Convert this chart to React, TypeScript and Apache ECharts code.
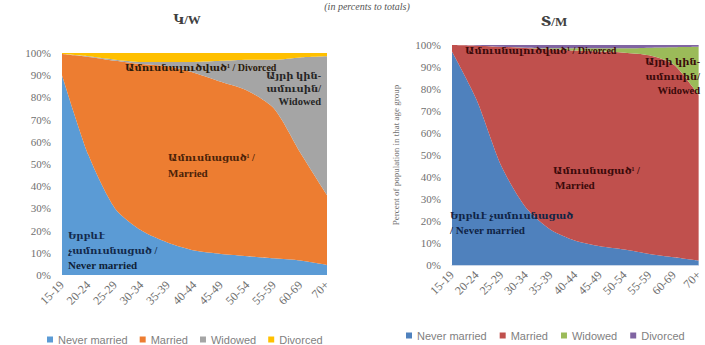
import React, { useEffect, useRef } from 'react';
import * as echarts from 'echarts';

const categories = ['15-19', '20-24', '25-29', '30-34', '35-39', '40-44', '45-49', '50-54', '55-59', '60-69', '70+'];
const legendNames = ['Never married', 'Married', 'Widowed', 'Divorced'];
const yTicks = [0, 10, 20, 30, 40, 50, 60, 70, 80, 90, 100];

// Women (Կ/W)
const womenNever = [90, 54, 30, 20, 14.5, 11, 9.5, 8.5, 7.5, 6.5, 4.5];
const womenMarried = [9.5, 44.2, 66.5, 75, 79.5, 80, 77.5, 74.5, 67.5, 48.5, 31.5];
const womenWidowed = [0, 0.3, 0.5, 1, 2, 5, 9.5, 14, 22, 43, 62.5];
const womenDivorced = [0.5, 1.5, 3, 4, 4, 4, 3.5, 3, 3, 2, 1.5];

// Men (Տ/M)
const menNever = [97, 75, 45, 26, 16, 11, 8.5, 7, 5, 3.5, 2];
const menMarried = [3, 24.7, 54.2, 72.6, 82, 86.5, 88.5, 89.5, 90.3, 87.5, 75.2];
const menWidowed = [0, 0, 0, 0.2, 0.5, 1, 1.5, 2, 3.5, 8, 22];
const menDivorced = [0, 0.3, 0.8, 1.2, 1.5, 1.5, 1.5, 1.5, 1.2, 1, 0.8];

const womenColors = ['#5B9BD5', '#ED7D31', '#A5A5A5', '#FFC000'];
const menColors = ['#4F81BD', '#C0504D', '#9BBB59', '#8064A2'];

const SERIF = "'Liberation Serif', 'DejaVu Serif', serif";
const SANS = "'Liberation Sans', Arial, sans-serif";

function mkSeries(name: string, data: number[], color: string, idx: number) {
  return {
    type: 'line',
    name,
    data,
    stack: idx === 0 ? 'w' : 'm',
    xAxisIndex: idx,
    yAxisIndex: idx,
    symbol: 'none',
    smooth: 0.25,
    silent: true,
    lineStyle: { width: 0, color },
    itemStyle: { color },
    areaStyle: { color, opacity: 1 },
  };
}

function txt(text: string, x: number, y: number, fill: string, size = 11, align = 'left', weight = 'bold', family = SERIF, italic = false) {
  return {
    type: 'text',
    x,
    y,
    silent: true,
    z: 100,
    style: {
      text,
      fill,
      font: `${italic ? 'italic ' : ''}${weight} ${size}px ${family}`,
      textAlign: align,
      align,
      textVerticalAlign: 'middle',
      verticalAlign: 'middle',
    },
  };
}

function xAxis(gridIndex: number) {
  return {
    type: 'category',
    gridIndex,
    data: categories,
    boundaryGap: false,
    axisTick: { show: false },
    axisLine: { show: gridIndex === 1, lineStyle: { color: '#c9d6e8' } },
    axisLabel: { rotate: 45, margin: 8, fontSize: 12, color: '#6f6f6f', fontFamily: SERIF, interval: 0 },
  };
}

function yAxis(gridIndex: number) {
  return {
    type: 'value',
    gridIndex,
    min: 0,
    max: 100,
    interval: 10,
    splitLine: { show: false },
    axisLine: { show: false },
    axisTick: { show: false },
    axisLabel: { formatter: (v: number) => (yTicks.includes(v) ? v + '%' : ''), fontSize: 11, color: '#6f6f6f', fontFamily: SERIF, margin: 11 },
    ...(gridIndex === 1
      ? {
          name: 'Percent of population in that age group',
          nameLocation: 'middle',
          nameRotate: 90,
          nameGap: 52,
          nameTextStyle: { fontSize: 9, color: '#6f6f6f', fontFamily: SERIF },
        }
      : {}),
  };
}

export default function App() {
  const ref = useRef<HTMLDivElement>(null);
  useEffect(() => {
    const chart = echarts.init(ref.current!, null, { renderer: 'svg' });
    const option = {
      animation: false,
      backgroundColor: '#ffffff',
      grid: [
        { left: 62, top: 53, width: 265, height: 222 },
        { left: 452, top: 45, width: 250, height: 220 },
      ],
      xAxis: [xAxis(0), xAxis(1)],
      yAxis: [yAxis(0), yAxis(1)],
      legend: [
        {
          left: 42,
          top: 329,
          itemWidth: 6,
          itemHeight: 6,
          itemGap: 12,
          icon: 'rect',
          selectedMode: false,
          textStyle: { fontSize: 11, color: '#7f7f7f', fontFamily: SANS },
          data: legendNames.map((n, i) => ({ name: n, itemStyle: { color: womenColors[i] } })),
        },
        {
          left: 401,
          top: 325,
          itemWidth: 6,
          itemHeight: 6,
          itemGap: 13,
          icon: 'rect',
          selectedMode: false,
          textStyle: { fontSize: 11, color: '#7f7f7f', fontFamily: SANS },
          data: legendNames.map((n, i) => ({ name: n, itemStyle: { color: menColors[i] } })),
        },
      ],
      series: [
        mkSeries(legendNames[0], womenNever, womenColors[0], 0),
        mkSeries(legendNames[1], womenMarried, womenColors[1], 0),
        mkSeries(legendNames[2], womenWidowed, womenColors[2], 0),
        mkSeries(legendNames[3], womenDivorced, womenColors[3], 0),
        mkSeries(legendNames[0], menNever, menColors[0], 1),
        mkSeries(legendNames[1], menMarried, menColors[1], 1),
        mkSeries(legendNames[2], menWidowed, menColors[2], 1),
        mkSeries(legendNames[3], menDivorced, menColors[3], 1),
      ],
      graphic: [
        txt('(in percents to totals)', 367, 6, '#555555', 10, 'center', 'normal', SERIF, true),
        txt('Կ/W', 187, 19, '#404040', 13, 'center'),
        txt('Տ/M', 554, 21, '#404040', 13, 'center'),
        // Women annotations
        txt('Ամուսնալուծված¹ / Divorced', 125, 67, '#2a1a0a', 10),
        txt('Այրի կին-', 321, 75, '#262626', 10, 'right'),
        txt('ամուսին/', 321, 88, '#262626', 10, 'right'),
        txt('Widowed', 321, 101, '#262626', 10.5, 'right'),
        txt('Ամուսնացած¹ /', 168, 157, '#4a2208', 10),
        txt('Married', 168, 173, '#4a2208', 11),
        txt('Երբևէ', 68, 235, '#13294b', 10),
        txt('չամուսնացած /', 68, 250, '#13294b', 10),
        txt('Never married', 68, 265, '#0f1f38', 11),
        // Men annotations
        txt('Ամուսնալուծված¹ / Divorced', 465, 50, '#3a0a0a', 10),
        txt('Այրի կին-', 700, 61, '#3a0a0a', 10, 'right'),
        txt('ամուսին/', 700, 76, '#3a0a0a', 10, 'right'),
        txt('Widowed', 700, 90, '#3a0a0a', 10.5, 'right'),
        txt('Ամուսնացած¹ /', 553, 170, '#3a0a0a', 10),
        txt('Married', 555, 185, '#3a0a0a', 11),
        txt('Երբևէ չամուսնացած', 450, 215, '#0f2446', 10),
        txt('/ Never married', 450, 230, '#0f2446', 11),
      ],
    };
    chart.setOption(option as any);
    return () => chart.dispose();
  }, []);
  return (
    <div
      ref={ref}
      style={{ position: 'fixed', left: 0, top: 0, width: 705, height: 345, background: '#ffffff' }}
    />
  );
}
